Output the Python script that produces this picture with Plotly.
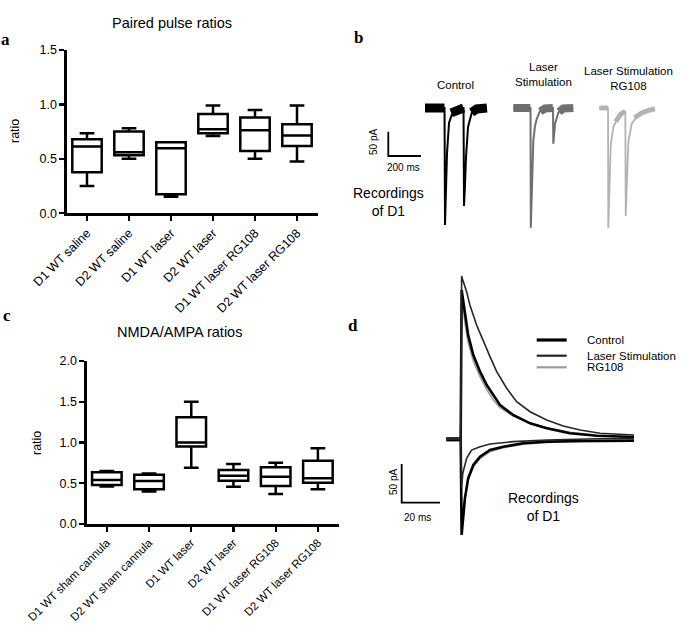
import plotly.graph_objects as go

W, H = 685, 625


def px(x):
    return x / W


def py(y):
    return 1 - y / H


SANS = "Liberation Sans, Arial, sans-serif"
SERIF = "Liberation Serif, Times New Roman, serif"

# ---------------- Panel a: Paired pulse ratios ----------------
cats_a = ["D1 WT saline", "D2 WT saline", "D1 WT laser", "D2 WT laser",
          "D1 WT laser RG108", "D2 WT laser RG108"]
a_lo = [0.25, 0.50, 0.153, 0.71, 0.50, 0.475]
a_q1 = [0.377, 0.534, 0.175, 0.736, 0.573, 0.619]
a_med = [0.613, 0.561, 0.598, 0.773, 0.763, 0.714]
a_q3 = [0.68, 0.751, 0.653, 0.913, 0.88, 0.819]
a_hi = [0.736, 0.782, 0.653, 0.99, 0.95, 0.99]
a_ticks = [0.0, 0.5, 1.0, 1.5]

# ---------------- Panel c: NMDA/AMPA ratios ----------------
cats_c = ["D1 WT sham cannula", "D2 WT sham cannula", "D1 WT laser",
          "D2 WT laser", "D1 WT laser RG108", "D2 WT laser RG108"]
c_lo = [0.46, 0.40, 0.69, 0.458, 0.368, 0.425]
c_q1 = [0.479, 0.425, 0.95, 0.532, 0.466, 0.507]
c_med = [0.54, 0.527, 1.0, 0.593, 0.58, 0.56]
c_q3 = [0.635, 0.605, 1.31, 0.663, 0.695, 0.777]
c_hi = [0.65, 0.62, 1.50, 0.736, 0.752, 0.928]
c_ticks = [0.0, 0.5, 1.0, 1.5, 2.0]

# ---------------- Panel b: paired-pulse recordings (ms, pA) ----------------
ctrl_t = [0, 119.3, 122.3, 128.4, 134.6, 146.8, 163.3, 183.5, 201.8, 235.5,
          238.5, 244.6, 250.8, 263.0, 285.6, 316.2, 379.2]
ctrl_i = [0, 0, -240.8, -168.8, -92.6, -30.9, -14.4, -4.1, 0, 0,
          -201.7, -158.5, -100.8, -39.1, -10.3, 0, 0]
ctrl_band_t = [0, 119, None, 160, 200, 236, None, 285, 316, 379]
ctrl_band_i = [0, 0, None, -10, -3, 0, None, -9, -2, 0]

las_t = [0, 105.2, 107.0, 114.4, 122.3, 132.7, 143.1, 163.3, 193.9, 242.8,
         244.6, 255.0, 275.2, 305.8, 367.0]
las_i = [0, 0, -246.3, -170.8, -67.9, -37.0, -22.6, -6.2, 0, 0,
         -73.5, -32.9, -9.7, 0, 0]
las_band_t = [0, 104, None, 165, 194, 242, None, 280, 306, 367]
las_band_i = [0, 0, None, -7, -1, 0, None, -8, -1, 0]

rg_t = [0, 53.2, 55.0, 62.4, 69.7, 85.6, 116.2, 146.8, 159.0, 161.5,
        169.4, 177.4, 198.2, 238.6, 290.0, 340.7]
rg_i = [0, 0, -247, -152.3, -76.1, -39.1, -18.5, -9.7, -6.2, -222.3,
        -152.3, -70.0, -32.3, -13.8, -6.8, -1.4]
rg_band_t = [0, 52, None, 100, 130, 158, None, 215, 260, 300, 340]
rg_band_i = [0, 0, None, -28, -13, -7, None, -20, -10, -5, -1.5]

b_offsets = {"ctrl": 0, "las": 540, "rg": 1066}

# ---------------- Panel d: evoked currents (ms, pA) ----------------
d_ctrl_up_t = [-8, -0.5, 0, 1.7, 3.4, 6.1, 9.6, 13.1, 16.5, 20.0, 26.9,
               35.7, 44.4, 56.5, 70.5, 90.0]
d_ctrl_up_i = [0, 0, 191.9, 159.6, 133.7, 107.9, 86.3, 69.1, 56.2, 43.3,
               30.4, 19.6, 13.2, 6.7, 3.6, 1.9]
d_las_up_t = [-8, -0.5, 0, 0.3, 2.6, 4.3, 7.8, 11.3, 14.8, 18.3, 23.5,
              28.7, 35.7, 44.4, 53.0, 61.8, 72.2, 90.0]
d_las_up_i = [0, 0, 210, 207, 189.7, 172.5, 146.6, 125.1, 105.7, 86.3,
              64.9, 47.5, 34.6, 23.9, 16.2, 11.0, 6.7, 4.5]
d_rg_up_t = [-8, -0.5, 0, 1.7, 3.4, 6.1, 9.6, 13.1, 16.5, 20.0, 26.9,
             35.7, 44.4, 56.5, 70.5, 90.0]
d_rg_up_i = [0, 0, 185, 150, 124, 100, 80, 63, 50, 40, 29, 20, 14, 8, 4, 2]

d_ctrl_dn_t = [-8, -0.5, 0, 0.8, 1.7, 3.4, 6.1, 9.6, 14.8, 21.7, 32.2,
               44.4, 61.8, 90.0]
d_ctrl_dn_i = [-2, -2, -124.7, -103.1, -77.3, -51.4, -34.2, -23.5, -14.9,
               -10.6, -6.2, -4.1, -3.2, -2.8]
d_las_dn_t = [-8, -0.5, 0, 0.6, 2.6, 5.2, 9.6, 14.8, 26.9, 44.4, 70.5, 90.0]
d_las_dn_i = [-1, -1, -62, -45, -25.6, -14.9, -10.6, -7.1, -4.1, -1.9,
              -0.4, 0]
d_rg_dn_t = [-8, -0.5, 0, 0.8, 1.7, 3.4, 6.1, 9.6, 14.8, 21.7, 32.2,
             44.4, 61.8, 90.0]
d_rg_dn_i = [-3, -3, -120, -100, -78, -54, -37, -26, -17, -12, -7.5, -5,
             -4, -3.5]

legend_d = ["Control", "Laser Stimulation", "RG108"]
d_colors = {"Control": "black", "Laser Stimulation": "#262626", "RG108": "#9a9a9a"}
d_widths = {"Control": 2.6, "Laser Stimulation": 1.6, "RG108": 1.6}

# scale bars (lengths are data, corner positions layout)
sb_b_len = (200, 50)   # ms, pA
sb_b_corner = (-224.5, -98.8)
sb_d_len = (20, 50)
sb_d_corner = (-31.3, -82.9)

fig = go.Figure()

box_style = dict(line=dict(color="black", width=2.5), fillcolor="rgba(0,0,0,0)",
                 width=0.7, whiskerwidth=0.5, boxpoints=False,
                 showlegend=False, hoverinfo="skip")
fig.add_trace(go.Box(x=cats_a, q1=a_q1, median=a_med, q3=a_q3,
                     lowerfence=a_lo, upperfence=a_hi,
                     xaxis="x", yaxis="y", **box_style))
fig.add_trace(go.Box(x=cats_c, q1=c_q1, median=c_med, q3=c_q3,
                     lowerfence=c_lo, upperfence=c_hi,
                     xaxis="x2", yaxis="y2", **box_style))


def shifted(ts, off):
    return [None if t is None else t + off for t in ts]


# panel b traces
b_sets = [
    (ctrl_t, ctrl_i, ctrl_band_t, ctrl_band_i, b_offsets["ctrl"], "black", 2.0, 9),
    (las_t, las_i, las_band_t, las_band_i, b_offsets["las"], "#6f6f6f", 2.0, 8),
    (rg_t, rg_i, rg_band_t, rg_band_i, b_offsets["rg"], "#b3b3b3", 1.8, 5),
]
for t, i, bt, bi, off, col, lw, bw in b_sets:
    fig.add_trace(go.Scatter(x=shifted(bt, off), y=bi, mode="lines",
                             line=dict(color=col, width=bw),
                             xaxis="x3", yaxis="y3", showlegend=False,
                             hoverinfo="skip", connectgaps=False))
    fig.add_trace(go.Scatter(x=shifted(t, off), y=i, mode="lines",
                             line=dict(color=col, width=lw),
                             xaxis="x3", yaxis="y3", showlegend=False,
                             hoverinfo="skip"))

cx, cy = sb_b_corner
fig.add_trace(go.Scatter(x=[cx, cx, cx + sb_b_len[0]], y=[cy + sb_b_len[1], cy, cy],
                         mode="lines", line=dict(color="black", width=1.8),
                         xaxis="x3", yaxis="y3", showlegend=False, hoverinfo="skip"))

# panel d traces
d_sets = [
    ("RG108", d_rg_up_t, d_rg_up_i), ("RG108", d_rg_dn_t, d_rg_dn_i),
    ("Control", d_ctrl_up_t, d_ctrl_up_i), ("Control", d_ctrl_dn_t, d_ctrl_dn_i),
    ("Laser Stimulation", d_las_up_t, d_las_up_i),
    ("Laser Stimulation", d_las_dn_t, d_las_dn_i),
]
for name, t, i in d_sets:
    fig.add_trace(go.Scatter(x=t, y=i, mode="lines", name=name,
                             line=dict(color=d_colors[name], width=d_widths[name]),
                             xaxis="x4", yaxis="y4", showlegend=False,
                             hoverinfo="skip"))

cx, cy = sb_d_corner
fig.add_trace(go.Scatter(x=[cx, cx, cx + sb_d_len[0]], y=[cy + sb_d_len[1], cy, cy],
                         mode="lines", line=dict(color="black", width=1.8),
                         xaxis="x4", yaxis="y4", showlegend=False, hoverinfo="skip"))

axis_common = dict(showline=True, linecolor="black", linewidth=2.6, ticks="outside",
                   ticklen=5, tickwidth=2.2, tickcolor="black", showgrid=False,
                   zeroline=False, automargin=False)
font_a = dict(family=SANS, size=12.5, color="black")
font_c = dict(family=SANS, size=11.5, color="black")

hidden = dict(visible=False, showgrid=False, zeroline=False, automargin=False)

fig.update_layout(
    template="none",
    width=W, height=H, margin=dict(l=0, r=0, t=0, b=0, pad=0, autoexpand=False),
    paper_bgcolor="white", plot_bgcolor="rgba(0,0,0,0)",
    showlegend=False,
    xaxis=dict(domain=[px(67), px(318)], range=[-0.476, 5.5], anchor="y",
               tickangle=-45, tickfont=font_a, **axis_common),
    yaxis=dict(domain=[py(213.3), py(50)], range=[0, 1.5], anchor="x",
               tickvals=a_ticks, tickformat=".1f", tickfont=font_a, **axis_common),
    xaxis2=dict(domain=[px(87), px(339)], range=[-0.47, 5.5], anchor="y2",
                tickangle=-45, tickfont=font_c, **axis_common),
    yaxis2=dict(domain=[py(524), py(361)], range=[0, 2.0], anchor="x2",
                tickvals=c_ticks, tickformat=".1f", tickfont=font_a, **axis_common),
    xaxis3=dict(domain=[px(340), 1.0], range=[-519.9, 1590], anchor="y3", **hidden),
    yaxis3=dict(domain=[py(260), 1.0], range=[-312.8, 222.3], anchor="x3", **hidden),
    xaxis4=dict(domain=[px(340), 1.0], range=[-63.5, 116.6], anchor="y4", **hidden),
    yaxis4=dict(domain=[py(560), py(260)], range=[-157.0, 230.6], anchor="x4", **hidden),
)


def note(text, x, y, size=12, angle=0, family=SANS, bold=False, xanchor="center"):
    fig.add_annotation(text=f"<b>{text}</b>" if bold else text,
                       x=px(x), y=py(y), xref="paper", yref="paper",
                       xanchor=xanchor, yanchor="middle", showarrow=False,
                       textangle=angle, align="center",
                       font=dict(family=family, size=size, color="black"))


note("Paired pulse ratios", 172, 23, size=14.5)
note("NMDA/AMPA ratios", 179, 332, size=14.5)
note("ratio", 15, 131, size=12.5, angle=-90)
note("ratio", 37, 443, size=12.5, angle=-90)
note("a", 5, 39, size=17, family=SERIF, bold=True)
note("c", 7, 315, size=17, family=SERIF, bold=True)
note("b", 358, 38, size=17, family=SERIF, bold=True)
note("d", 353, 326, size=17, family=SERIF, bold=True)

note("Control", 455, 85, size=11.5)
note("Laser<br>Stimulation", 543, 74, size=11.5)
note("Laser Stimulation<br>RG108", 628, 78.5, size=11.5)
note("50 pA", 373, 142, size=10, angle=-90)
note("200 ms", 403, 168, size=10)
note("Recordings<br>of D1", 388, 202, size=14)

note("50 pA", 393, 482, size=10, angle=-90)
note("20 ms", 417, 517, size=10)
note("Recordings<br>of D1", 543, 507, size=14)

# legend for panel d
leg_y = [340, 355.7, 367.3]
for name, yy in zip(legend_d, leg_y):
    fig.add_shape(type="line", xref="paper", yref="paper",
                  x0=px(536.7), x1=px(566.7), y0=py(yy), y1=py(yy),
                  line=dict(color=d_colors[name], width=d_widths[name] + 0.6))
    note(name, 585, yy, size=11.5, xanchor="left")

fig.write_html(
    "out.html",
    config={"displayModeBar": False, "staticPlot": True},
    post_script="document.body.style.margin='0px';"
                "document.body.style.padding='0px';"
                "document.documentElement.style.overflow='hidden';",
)
